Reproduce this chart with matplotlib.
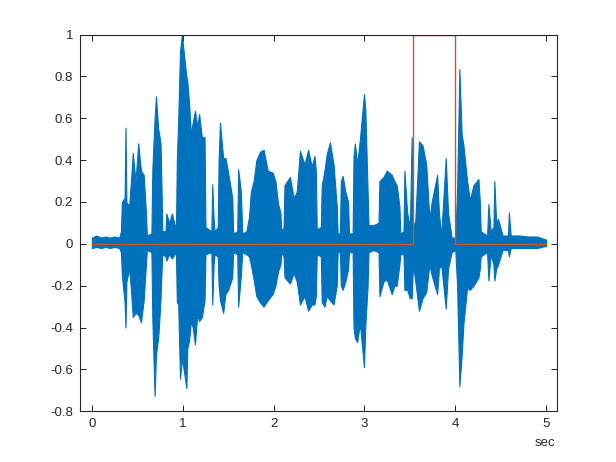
import matplotlib
matplotlib.use("Agg")
import matplotlib.pyplot as plt

# Envelope of the audio waveform (time in sec)
t = [0.00, 0.05, 0.10, 0.15, 0.20, 0.25, 0.30, 0.32, 0.33, 0.36,
     0.37, 0.38, 0.41, 0.43, 0.45, 0.48, 0.51, 0.54, 0.57, 0.595,
     0.605, 0.655, 0.665, 0.69, 0.705, 0.73, 0.755, 0.765, 0.775, 0.81,
     0.82, 0.85, 0.88, 0.925, 0.935, 0.95, 0.97, 0.99, 1.01, 1.04,
     1.05, 1.07, 1.09, 1.11, 1.134, 1.16, 1.18, 1.21, 1.24, 1.25,
     1.315, 1.325, 1.34, 1.35, 1.385, 1.395, 1.41, 1.445, 1.47, 1.50,
     1.545, 1.555, 1.60, 1.61, 1.64, 1.655, 1.70, 1.73, 1.75, 1.78,
     1.81, 1.85, 1.89, 1.935, 1.99, 2.02, 2.05, 2.075, 2.085, 2.11,
     2.12, 2.18, 2.22, 2.255, 2.29, 2.34, 2.38, 2.42, 2.45, 2.465,
     2.475, 2.52, 2.53, 2.56, 2.585, 2.62, 2.66, 2.695, 2.705, 2.73,
     2.74, 2.76, 2.79, 2.82, 2.83, 2.87, 2.88, 2.895, 2.92, 2.95,
     2.995, 3.01, 3.035, 3.045, 3.10, 3.155, 3.165, 3.21, 3.245, 3.30,
     3.33, 3.355, 3.385, 3.395, 3.43, 3.44, 3.47, 3.50, 3.52, 3.535,
     3.56, 3.60, 3.64, 3.68, 3.715, 3.74, 3.80, 3.82, 3.845, 3.895,
     3.92, 3.96, 4.00, 4.02, 4.045, 4.07, 4.09, 4.13, 4.16, 4.20,
     4.255, 4.27, 4.28, 4.35, 4.365, 4.39, 4.42, 4.43, 4.45, 4.47,
     4.52, 4.58, 4.59, 4.61, 4.70, 4.80, 4.90, 5.00]
upper = [0.03, 0.04, 0.03, 0.035, 0.03, 0.035, 0.03, 0.06, 0.20, 0.22,
         0.555, 0.20, 0.18, 0.30, 0.435, 0.30, 0.48, 0.35, 0.33, 0.15,
         0.04, 0.05, 0.35, 0.60, 0.705, 0.55, 0.485, 0.30, 0.06, 0.06,
         0.145, 0.10, 0.145, 0.07, 0.40, 0.59, 0.92, 1.0, 0.92, 0.80,
         0.78, 0.67, 0.525, 0.58, 0.636, 0.56, 0.62, 0.51, 0.51, 0.08,
         0.06, 0.285, 0.12, 0.06, 0.08, 0.40, 0.58, 0.41, 0.41, 0.34,
         0.22, 0.05, 0.06, 0.357, 0.25, 0.05, 0.06, 0.13, 0.25, 0.30,
         0.40, 0.44, 0.45, 0.35, 0.34, 0.30, 0.19, 0.15, 0.06, 0.08,
         0.28, 0.32, 0.22, 0.25, 0.445, 0.38, 0.45, 0.37, 0.42, 0.35,
         0.07, 0.08, 0.28, 0.35, 0.43, 0.485, 0.38, 0.18, 0.05, 0.05,
         0.30, 0.325, 0.25, 0.20, 0.05, 0.05, 0.42, 0.48, 0.38, 0.50,
         0.716, 0.64, 0.25, 0.09, 0.09, 0.10, 0.30, 0.32, 0.35, 0.33,
         0.30, 0.28, 0.18, 0.05, 0.06, 0.35, 0.15, 0.08, 0.51, 0.08,
         0.11, 0.49, 0.47, 0.38, 0.12, 0.20, 0.33, 0.15, 0.04, 0.41,
         0.15, 0.03, 0.03, 0.25, 0.835, 0.525, 0.47, 0.30, 0.21, 0.28,
         0.31, 0.20, 0.06, 0.04, 0.19, 0.06, 0.08, 0.30, 0.10, 0.12,
         0.04, 0.04, 0.15, 0.04, 0.04, 0.035, 0.035, 0.02]
lower = [-0.02, -0.015, -0.02, -0.015, -0.02, -0.015, -0.02, -0.04, -0.15, -0.28,
         -0.40, -0.18, -0.12, -0.22, -0.35, -0.33, -0.34, -0.375, -0.27, -0.10,
         -0.03, -0.04, -0.35, -0.727, -0.53, -0.45, -0.27, -0.15, -0.05, -0.06,
         -0.08, -0.05, -0.07, -0.04, -0.28, -0.29, -0.645, -0.55, -0.60, -0.69,
         -0.50, -0.46, -0.37, -0.40, -0.48, -0.34, -0.37, -0.35, -0.27, -0.05,
         -0.04, -0.29, -0.10, -0.05, -0.06, -0.20, -0.27, -0.33, -0.24, -0.22,
         -0.16, -0.04, -0.05, -0.30, -0.15, -0.04, -0.05, -0.06, -0.10, -0.17,
         -0.25, -0.28, -0.30, -0.27, -0.24, -0.20, -0.13, -0.10, -0.04, -0.06,
         -0.16, -0.19, -0.14, -0.18, -0.29, -0.25, -0.32, -0.29, -0.29, -0.25,
         -0.05, -0.06, -0.28, -0.30, -0.25, -0.27, -0.29, -0.20, -0.04, -0.04,
         -0.20, -0.22, -0.18, -0.12, -0.04, -0.04, -0.40, -0.45, -0.47, -0.38,
         -0.59, -0.39, -0.20, -0.04, -0.03, -0.04, -0.25, -0.18, -0.17, -0.24,
         -0.20, -0.20, -0.10, -0.05, -0.05, -0.22, -0.22, -0.26, -0.26, -0.10,
         -0.18, -0.32, -0.26, -0.23, -0.10, -0.15, -0.24, -0.12, -0.10, -0.31,
         -0.12, -0.04, -0.03, -0.20, -0.68, -0.535, -0.38, -0.21, -0.22, -0.20,
         -0.16, -0.12, -0.06, -0.04, -0.175, -0.05, -0.10, -0.175, -0.12, -0.10,
         -0.03, -0.03, -0.06, -0.02, -0.02, -0.02, -0.02, -0.01]

# Detection mask (step function)
mask_t = [0.0, 3.53, 3.53, 4.0, 4.0, 5.0]
mask_v = [0, 0, 1, 1, 0, 0]

xticks = [0, 1, 2, 3, 4, 5]
yticks = [-0.8, -0.6, -0.4, -0.2, 0, 0.2, 0.4, 0.6, 0.8, 1]
ytick_labels = ["-0.8", "-0.6", "-0.4", "-0.2", "0", "0.2", "0.4", "0.6", "0.8", "1"]

plt.rcParams['font.family'] = ['Liberation Sans', 'DejaVu Sans']

fig = plt.figure(figsize=(6.16, 4.62), dpi=100)
ax = fig.add_axes([0.13, 0.11, 0.775, 0.815])

blue = '#0072BD'
ax.fill_between(t, lower, upper, color=blue, linewidth=0.8, edgecolor=blue)
ax.plot(mask_t, mask_v, color='#D95319', linewidth=1.0)

ax.set_xlim(-0.13, 5.125)
ax.set_ylim(-0.8, 1)
ax.set_xticks(xticks)
ax.set_xticklabels([str(v) for v in xticks])
ax.set_yticks(yticks)
ax.set_yticklabels(ytick_labels)

axc = '#262626'
for s in ax.spines.values():
    s.set_color(axc)
    s.set_linewidth(0.8)
ax.tick_params(direction='in', length=4, width=0.7, colors=axc, labelsize=9.5,
               top=True, right=True, labelcolor=axc, pad=5)

fig.text(545 / 616, 1 - 443 / 462, 'sec', ha='center', va='center', fontsize=9.5, color=axc)

fig.savefig('out.png', dpi=100)
